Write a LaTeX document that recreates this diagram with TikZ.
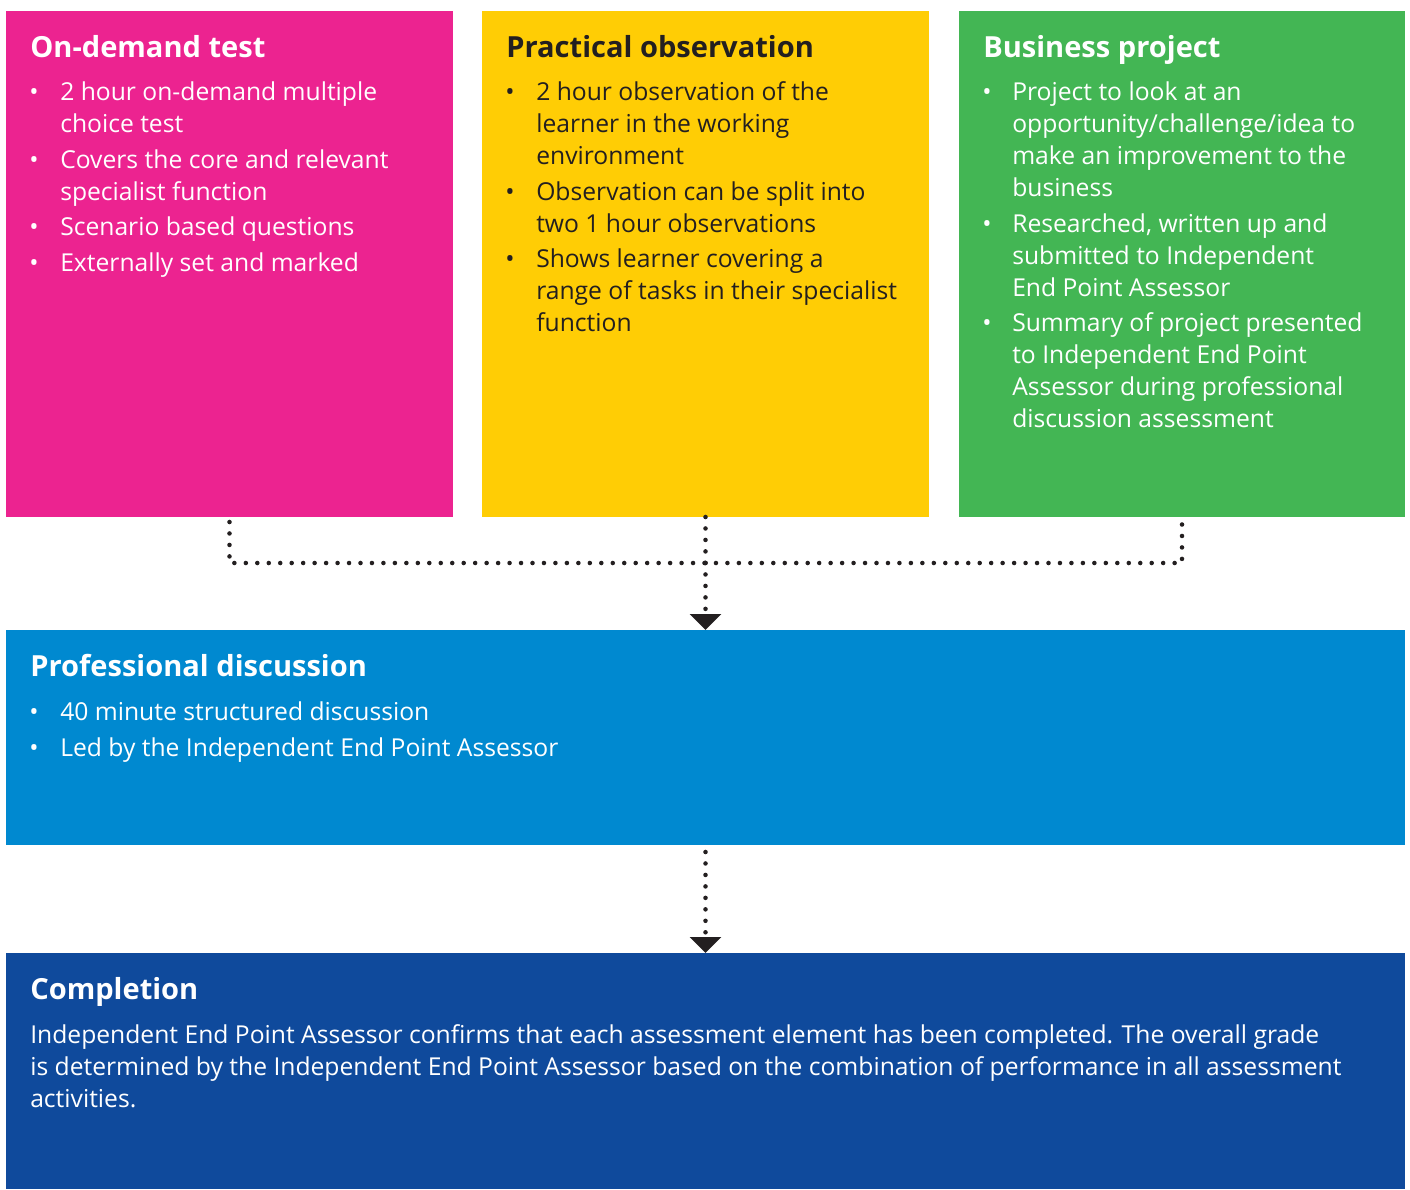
\documentclass[tikz,border=0pt]{standalone}
\usepackage{fontspec}
\setmainfont{Open Sans}
\usetikzlibrary{arrows.meta}
\definecolor{cpink}{HTML}{EC2390}
\definecolor{cyellow}{HTML}{FFCD05}
\definecolor{cgreen}{HTML}{43B654}
\definecolor{cblue}{HTML}{0089D0}
\definecolor{cnavy}{HTML}{0F4A9C}
\definecolor{cdark}{HTML}{231F20}
\newcommand\bodyfont{\fontsize{18.5}{24}\selectfont}
\newcommand\headfont{\fontsize{21.8}{26}\selectfont\bfseries}
\tikzset{
  box/.style={draw=none, anchor=north west, inner sep=0, outer sep=0},
  headtext/.style={anchor=base west, inner sep=0, font=\headfont},
  bodytext/.style={anchor=base west, inner sep=0, align=left, font=\bodyfont},
  bulletmark/.style={anchor=base, inner sep=0, font=\bodyfont},
  dotline/.style={cdark, line width=3.4pt, line cap=round, dash pattern=on 0pt off 8.6pt},
  tip/.style={-{Triangle[width=23pt,length=12pt]}}
}
\begin{document}
\begin{tikzpicture}[x=0.75pt,y=-0.75pt]
\useasboundingbox (0,0) rectangle (1410,1189);
% boxes
\node[box, fill=cpink, minimum width=447*0.75pt, minimum height=506*0.75pt] (pink) at (6,11) {};
\node[box, fill=cyellow, minimum width=447*0.75pt, minimum height=506*0.75pt] (yellow) at (482,11) {};
\node[box, fill=cgreen, minimum width=446*0.75pt, minimum height=506*0.75pt] (green) at (959,11) {};
\node[box, fill=cblue, minimum width=1399*0.75pt, minimum height=215*0.75pt] (blue) at (6,630) {};
\node[box, fill=cnavy, minimum width=1399*0.75pt, minimum height=236*0.75pt] (navy) at (6,953) {};
% connectors
\coordinate (junction) at (705.5,563);
\draw[dotline] (pink.south) ++(0,5) coordinate (pstart) (pstart) -- (pink.south |- junction) -- (green.south |- junction) -- (green.south);
\draw[dotline] (yellow.south) -- (junction);
\draw[dotline, tip] (junction) -- (blue.north);
\draw[dotline, tip] (blue.south) ++(0,7) coordinate (bstart) (bstart) -- (navy.north);
% pink texts
\begin{scope}[white]
\node[headtext] (pinkhead) at (30,57) {On-demand test};
\node[bulletmark] (pb1) at (34,100) {•};
\node[bodytext] (pt1) at (60,132) {2 hour on-demand multiple\\choice test};
\node[bulletmark] (pb2) at (34,168) {•};
\node[bodytext] (pt2) at (60,200) {Covers the core and relevant\\specialist function};
\node[bulletmark] (pb3) at (34,235) {•};
\node[bodytext] (pt3) at (60,235) {Scenario based questions};
\node[bulletmark] (pb4) at (34,271) {•};
\node[bodytext] (pt4) at (60,271) {Externally set and marked};
\end{scope}
% yellow texts
\begin{scope}[cdark]
\node[headtext] (yellowhead) at (506,57) {Practical observation};
\node[bulletmark] (yb1) at (510,100) {•};
\node[bodytext] (yt1) at (536,164) {2 hour observation of the\\learner in the working\\environment};
\node[bulletmark] (yb2) at (510,200) {•};
\node[bodytext] (yt2) at (536,232) {Observation can be split into\\two 1 hour observations};
\node[bulletmark] (yb3) at (510,267) {•};
\node[bodytext] (yt3) at (536,331) {Shows learner covering a\\range of tasks in their specialist\\function};
\end{scope}
% green texts
\begin{scope}[white]
\node[headtext] (greenhead) at (983,57) {Business project};
\node[bulletmark] (gb1) at (987,100) {•};
\node[bodytext] (gt1) at (1012,196) {Project to look at an\\opportunity/challenge/idea to\\make an improvement to the\\business};
\node[bulletmark] (gb2) at (987,232) {•};
\node[bodytext] (gt2) at (1012,296) {Researched, written up and\\submitted to Independent\\End Point Assessor};
\node[bulletmark] (gb3) at (987,331) {•};
\node[bodytext] (gt3) at (1012,427) {Summary of project presented\\to Independent End Point\\Assessor during professional\\discussion assessment};
\end{scope}
% blue texts
\begin{scope}[white]
\node[headtext] (bluehead) at (30,676) {Professional discussion};
\node[bulletmark] (bb1) at (34,720) {•};
\node[bodytext] (bt1) at (60,720) {40 minute structured discussion};
\node[bulletmark] (bb2) at (34,756) {•};
\node[bodytext] (bt2) at (60,756) {Led by the Independent End Point Assessor};
\end{scope}
% navy texts
\begin{scope}[white]
\node[headtext] (navyhead) at (30,999) {Completion};
\node[bodytext] (nt1) at (30,1107) {Independent End Point Assessor confirms that each assessment element has been completed. The overall grade\\is determined by the Independent End Point Assessor based on the combination of performance in all assessment\\activities.};
\end{scope}
\end{tikzpicture}
\end{document}
